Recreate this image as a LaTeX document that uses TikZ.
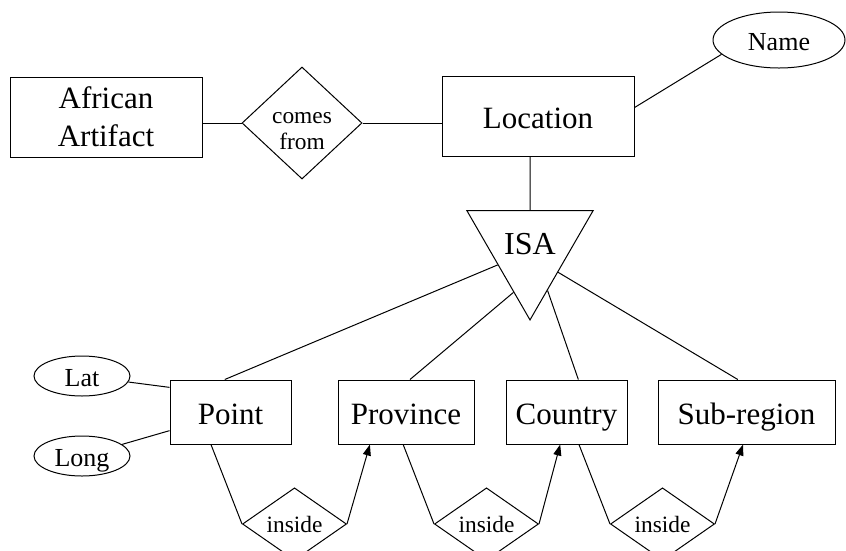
\documentclass[tikz,border=0pt]{standalone}
\usepackage{fontspec}
\setmainfont{Liberation Serif}
\usetikzlibrary{shapes.geometric,arrows.meta,calc}
\begin{document}
\begin{tikzpicture}[x=1pt,y=-1pt,line width=1pt,
  entbase/.style={draw,rectangle,inner sep=0pt,align=center,font=\fontsize{31}{38}\selectfont},
  ent/.style={entbase,minimum height=64pt,text height=24pt,text depth=0pt},
  rel/.style={draw,diamond,inner sep=0pt,align=center,font=\fontsize{23.4}{26}\selectfont},
  reltext/.style={inner sep=0pt,align=center,font=\fontsize{23.4}{26}\selectfont},
  attr/.style={draw,ellipse,inner sep=0pt,text height=20pt,text depth=0pt,font=\fontsize{26}{30}\selectfont},
  isastyle/.style={draw,regular polygon,regular polygon sides=3,shape border rotate=180,minimum size=121pt,inner sep=0pt,text height=14pt,text depth=0pt,font=\fontsize{32}{36}\selectfont},
  arr/.style={-{Triangle[length=11pt,width=8pt]}}]
\useasboundingbox (0,0) rectangle (846,550);
\clip (0,0) rectangle (846,550);
% top row
\node[entbase,minimum width=192pt,minimum height=80pt] (aa) at (106,117) {African\\Artifact};
\node[rel,minimum width=120pt,minimum height=112pt] (comes) at (302,123) {};
\node[reltext] (comestext) at (302,131) {comes\\from};
\node[ent,minimum width=192pt,minimum height=80pt] (loc) at (538,116) {Location};
\node[attr,minimum width=132pt,minimum height=56pt] (name) at (779,40) {Name};
\node[isastyle] (isa) at (530,247) {ISA};
% subclasses
\node[ent,minimum width=121pt] (point) at (230.5,412) {Point};
\node[ent,minimum width=136pt] (prov) at (406,412) {Province};
\node[ent,minimum width=121pt] (country) at (566.5,412) {Country};
\node[ent,minimum width=177pt] (sub) at (746.5,412) {Sub-region};
\node[attr,minimum width=96pt,minimum height=40pt] (lat) at (82,376) {Lat};
\node[attr,minimum width=96pt,minimum height=40pt] (long) at (82,456) {Long};
% inside relations
\node[rel,minimum width=104pt,minimum height=64pt] (in1) at (294.5,524) {inside};
\node[rel,minimum width=104pt,minimum height=64pt] (in2) at (486.5,524) {inside};
\node[rel,minimum width=104pt,minimum height=64pt] (in3) at (662.5,524) {inside};
% connectors
\draw (comes.west) -- (comes.west -| aa.east);
\draw (comes.east) -- (comes.east -| loc.west);
\draw (loc.5) -- (name.194);
\draw (loc.-101) -- (isa.90);
\draw (isa.-151) -- (point.100);
\draw (isa.-110) -- (prov.83);
\draw (isa.-68) -- (country.70);
\draw (isa.-42) -- (sub.105);
\draw (lat) -- (point.158);
\draw (long) -- (point.-163);
\draw (point.-121) -- (in1.west);
\draw[arr] (in1.east) -- (prov.-138);
\draw (prov.-95) -- (in2.west);
\draw[arr] (in2.east) -- (country.-101);
\draw (country.-69) -- (in3.west);
\draw[arr] (in3.east) -- (sub.-96);
\end{tikzpicture}
\end{document}
